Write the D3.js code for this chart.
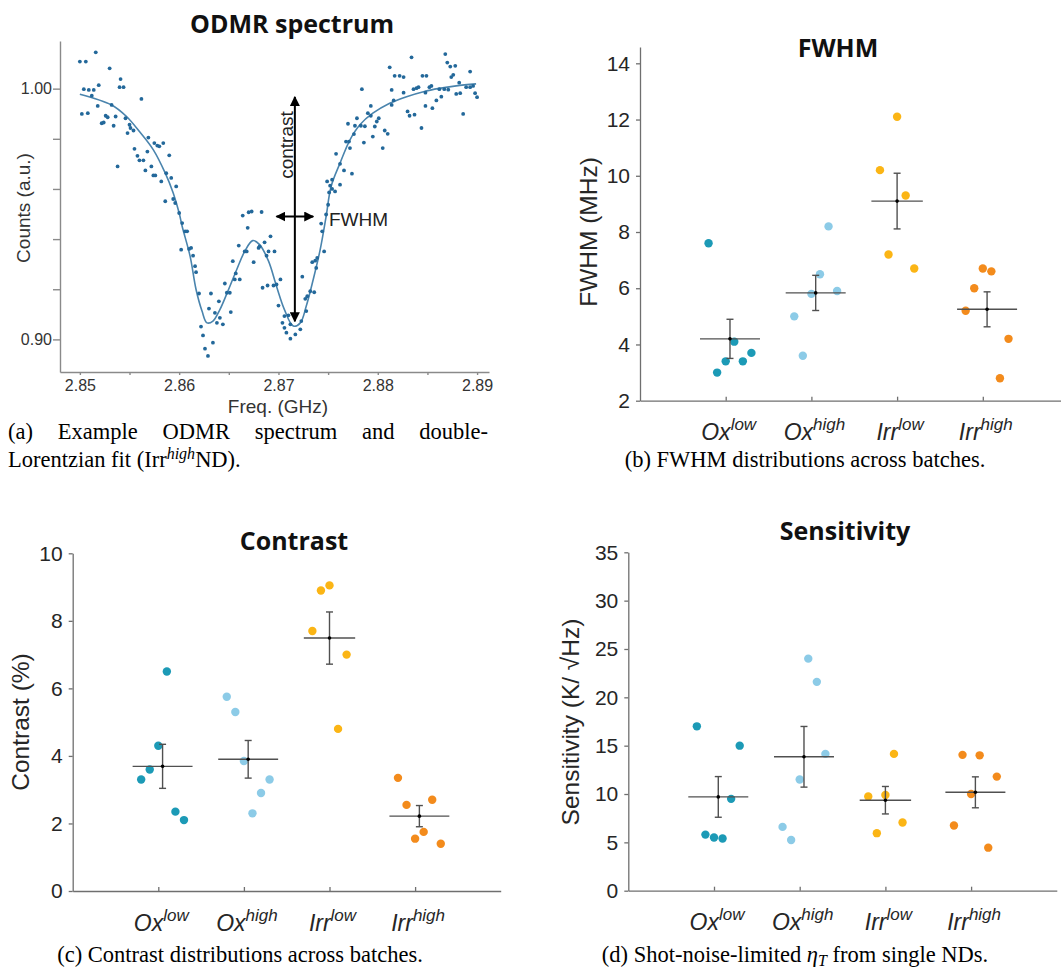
<!DOCTYPE html>
<html>
<head>
<meta charset="utf-8">
<title>ODMR characterisation of nanodiamond batches</title>
<script src="https://cdn.jsdelivr.net/npm/d3@7/dist/d3.min.js"></script>
<style>
  html, body { margin: 0; padding: 0; background: #ffffff; }
  svg { display: block; }
</style>
</head>
<body>
<svg id="figure" width="1061" height="976" viewBox="0 0 1061 976"></svg>
<script>
// ---------------------------------------------------------------
// Data
// ---------------------------------------------------------------

// (a) ODMR spectrum of one Irr-high nanodiamond: [frequency (GHz), normalised counts]
const odmrPoints = [
  [2.8500,1.0108],[2.8506,1.0108],[2.8516,1.0145],[2.8530,1.0081],[2.8504,0.9998],[2.8509,0.9995],
  [2.8514,0.9995],[2.8519,1.0014],[2.8512,0.9972],[2.8518,0.9931],[2.8502,0.9899],[2.8508,0.9902],
  [2.8532,0.9935],[2.8526,0.9892],[2.8528,0.9886],[2.8536,0.9889],[2.8522,0.9862],[2.8524,0.9865],
  [2.8534,0.9852],[2.8541,1.0038],[2.8540,1.0006],[2.8544,1.0006],[2.8546,0.9882],[2.8550,0.9856],
  [2.8551,0.9843],[2.8554,0.9833],[2.8548,0.9823],[2.8562,0.9959],[2.8569,0.9805],[2.8575,0.9783],
  [2.8584,0.9783],[2.8578,0.9773],[2.8580,0.9770],[2.8590,0.9734],[2.8555,0.9760],[2.8568,0.9749],
  [2.8558,0.9732],[2.8560,0.9714],[2.8564,0.9714],[2.8538,0.9690],[2.8572,0.9690],[2.8566,0.9674],
  [2.8574,0.9654],[2.8576,0.9654],[2.8587,0.9663],[2.8592,0.9644],[2.8582,0.9630],[2.8597,0.9610],
  [2.8594,0.9560],[2.8596,0.9544],[2.8586,0.9551],[2.8600,0.9504],
  [2.8603,0.9464],[2.8606,0.9431],[2.8608,0.9431],[2.8602,0.9358],[2.8610,0.9361],[2.8612,0.9365],
  [2.8614,0.9334],[2.8616,0.9292],[2.8617,0.9268],[2.8620,0.9183],[2.8632,0.9183],[2.8622,0.9051],
  [2.8624,0.9016],[2.8626,0.8963],[2.8629,0.8934],[2.8634,0.8987],[2.8630,0.9123],[2.8636,0.9106],
  [2.8640,0.9152],[2.8638,0.9066],[2.8641,0.9086],[2.8644,0.9060],[2.8646,0.9223],[2.8648,0.9186],
  [2.8651,0.9186],[2.8652,0.9109],[2.8654,0.9312],[2.8656,0.9239],[2.8657,0.9263],[2.8661,0.9239],
  [2.8660,0.9374],[2.8664,0.9494],[2.8669,0.9445],[2.8670,0.9507],[2.8673,0.9510],[2.8666,0.9351],
  [2.8668,0.9351],[2.8675,0.9308],[2.8680,0.9365],
  [2.8683,0.9508],[2.8686,0.9387],[2.8692,0.9411],[2.8681,0.9371],[2.8690,0.9351],[2.8696,0.9351],
  [2.8688,0.9334],[2.8689,0.9215],[2.8684,0.9206],[2.8695,0.9215],[2.8698,0.9219],[2.8702,0.9239],
  [2.8700,0.9135],[2.8706,0.9093],[2.8710,0.9096],[2.8704,0.9066],[2.8706,0.9046],[2.8712,0.9060],
  [2.8708,0.9027],[2.8712,0.9003],[2.8717,0.9020],[2.8722,0.9040],[2.8723,0.9073],[2.8728,0.9113],
  [2.8727,0.9162],[2.8729,0.9172],[2.8732,0.9192],[2.8724,0.9250],[2.8736,0.9188],[2.8734,0.9308],
  [2.8737,0.9314],[2.8739,0.9325],[2.8738,0.9285],[2.8746,0.9351],[2.8744,0.9431],[2.8743,0.9462],
  [2.8748,0.9498],[2.8750,0.9537],
  [2.8758,0.9740],[2.8762,0.9700],[2.8766,0.9674],[2.8774,0.9661],[2.8749,0.9630],[2.8754,0.9637],
  [2.8752,0.9613],[2.8762,0.9617],[2.8757,0.9590],[2.8754,0.9600],[2.8751,0.9586],[2.8768,0.9789],
  [2.8771,0.9789],[2.8776,0.9819],[2.8772,0.9763],[2.8777,0.9852],[2.8779,0.9882],[2.8770,0.9860],
  [2.8786,0.9785],[2.8783,0.9852],[2.8787,0.9850],[2.8790,0.9902],[2.8793,0.9931],[2.8793,0.9892],
  [2.8795,0.9809],[2.8797,0.9849],[2.8801,0.9882],[2.8799,0.9869],[2.8805,0.9763],[2.8807,0.9833],
  [2.8810,0.9820],[2.8814,0.9935],[2.8816,0.9953],[2.8784,0.9998],[2.8812,1.0085],[2.8817,1.0051],
  [2.8822,1.0051],[2.8826,1.0046],[2.8814,0.9995],[2.8826,0.9984],[2.8834,1.0125],[2.8836,0.9998],
  [2.8839,1.0002],[2.8841,1.0006],[2.8830,0.9909],[2.8832,0.9892],[2.8837,0.9896],[2.8844,0.9843],
  [2.8845,1.0051],[2.8849,1.0051],[2.8848,0.9984],[2.8852,1.0006],[2.8854,1.0011],[2.8848,0.9931],
  [2.8855,0.9922],[2.8859,0.9953],[2.8862,0.9998],[2.8864,0.9968],[2.8868,1.0138],[2.8870,1.0104],
  [2.8873,1.0088],[2.8878,1.0091],[2.8876,1.0055],[2.8874,1.0046],[2.8867,0.9998],[2.8871,0.9996],
  [2.8882,1.0024],[2.8879,0.9979],[2.8883,0.9982],[2.8886,0.9899],[2.8893,1.0068],[2.8889,1.0006],
  [2.8893,1.0006],[2.8896,1.0011],[2.8898,0.9982],[2.8900,0.9966]
];

// (a) double-Lorentzian fit through the spectrum
const odmrFit = [
  [2.8500,0.9978],[2.8532,0.9935],[2.8547,0.9889],[2.8560,0.9829],[2.8574,0.9756],[2.8586,0.9663],
  [2.8594,0.9584],[2.8600,0.9504],[2.8603,0.9451],[2.8611,0.9332],[2.8617,0.9199],[2.8623,0.9113],
  [2.8628,0.9066],[2.8634,0.9073],[2.8641,0.9119],[2.8649,0.9192],[2.8658,0.9279],[2.8666,0.9351],
  [2.8674,0.9394],[2.8681,0.9378],[2.8690,0.9312],[2.8698,0.9212],[2.8706,0.9119],[2.8715,0.9053],
  [2.8722,0.9066],[2.8728,0.9133],[2.8735,0.9239],[2.8742,0.9358],[2.8748,0.9491],[2.8753,0.9610],
  [2.8762,0.9703],[2.8772,0.9796],[2.8782,0.9856],[2.8795,0.9902],[2.8812,0.9942],[2.8829,0.9968],
  [2.8846,0.9988],[2.8862,1.0001],[2.8879,1.0011],[2.8899,1.0019]
];

// (a) axis ticks
const freqTicks = [2.850, 2.855, 2.860, 2.865, 2.870, 2.875, 2.880, 2.885, 2.890];
const freqLabelled = [2.85, 2.86, 2.87, 2.88, 2.89];
const countTicks = [0.90, 0.92, 0.94, 0.96, 0.98, 1.00];
const countLabelled = [0.90, 1.00];

// (a) annotation: contrast arrow (freq, counts from -> to) and FWHM arrow (freq from -> to, counts)
const contrastArrow = { freq: 2.87165, from: 0.9072, to: 0.9967 };
const fwhmArrow = { from: 2.8698, to: 2.8735, counts: 0.9490 };

// (b)-(d) nanodiamond batches
const batchNames  = ["Ox", "Ox", "Irr", "Irr"];
const batchLevels = ["low", "high", "low", "high"];
const batchColors = ["#1c9ab6", "#8ccbe7", "#fbb515", "#f38b1c"];

// single-ND values per batch
const fwhmMHz = [
  [7.6, 3.0, 3.4, 4.1, 3.4, 3.7],
  [5.0, 3.6, 5.8, 6.5, 8.2, 5.9],
  [10.2, 7.2, 12.1, 9.3, 6.7],
  [5.2, 6.0, 6.7, 6.6, 2.8, 4.2]
];
const contrastPct = [
  [3.3, 3.6, 4.3, 6.5, 2.35, 2.1],
  [5.75, 5.3, 3.85, 2.3, 2.9, 3.3],
  [7.7, 8.9, 9.05, 4.8, 7.0],
  [3.35, 2.55, 1.55, 1.75, 2.7, 1.4]
];
const sensitivityK = [
  [17.0, 5.8, 5.5, 5.4, 9.5, 15.0],
  [6.6, 5.25, 11.5, 24.0, 21.6, 14.15],
  [9.75, 5.95, 9.9, 14.15, 7.05],
  [6.75, 14.05, 10.0, 14.0, 4.45, 11.8]
];

const fwhmTicks = [2, 4, 6, 8, 10, 12, 14];
const contrastTicks = [0, 2, 4, 6, 8, 10];
const sensitivityTicks = [0, 5, 10, 15, 20, 25, 30, 35];

// ---------------------------------------------------------------
// Drawing
// ---------------------------------------------------------------
const SANS = "'Liberation Sans', Arial, Helvetica, sans-serif";
const TITLE = "'Open Sans', 'Liberation Sans', Arial, sans-serif";
const SERIF = "'Liberation Serif', 'Times New Roman', Times, serif";
const svg = d3.select("#figure");

function styleAxis(sel, color, width) {
  sel.select(".domain").attr("stroke", color).attr("stroke-width", width);
  sel.selectAll(".tick line").attr("stroke", color).attr("stroke-width", width);
}

// ---------- (a) ODMR spectrum ----------
(function drawSpectrum() {
  const g = svg.append("g");
  const x = d3.scaleLinear().domain([2.848, 2.8912]).range([60, 489]);
  const y = d3.scaleLinear().domain([0.887, 1.019]).range([372, 41]);
  const near = (list, d) => list.some(v => Math.abs(v - d) < 1e-9);

  const yAx = g.append("g").attr("transform", "translate(60,0)")
    .call(d3.axisLeft(y).tickValues(countTicks).tickSize(7).tickSizeOuter(0).tickPadding(1)
      .tickFormat(d => near(countLabelled, d) ? d3.format(".2f")(d) : ""));
  const xAx = g.append("g").attr("transform", "translate(0,372)")
    .call(d3.axisBottom(x).tickValues(freqTicks).tickSize(3).tickSizeOuter(0).tickPadding(5)
      .tickFormat(d => near(freqLabelled, d) ? d3.format(".2f")(d) : ""));
  [yAx, xAx].forEach(a => {
    styleAxis(a, "#8a8a8a", 1.4);
    a.selectAll("text").attr("font-family", SANS).attr("font-size", 16).attr("fill", "#333");
  });

  // fit line
  g.append("path")
    .datum(odmrFit)
    .attr("fill", "none")
    .attr("stroke", "#4a84ad")
    .attr("stroke-width", 1.6)
    .attr("d", d3.line().x(d => x(d[0])).y(d => y(d[1])).curve(d3.curveCatmullRom.alpha(0.5)));

  // measured points
  g.append("g").selectAll("circle")
    .data(odmrPoints)
    .join("circle")
    .attr("cx", d => x(d[0]))
    .attr("cy", d => y(d[1]))
    .attr("r", 1.9)
    .attr("fill", "#23689a");

  // arrow heads
  const defs = svg.append("defs");
  defs.append("marker")
    .attr("id", "arrowHead")
    .attr("viewBox", "0 0 10 10")
    .attr("refX", 9).attr("refY", 5)
    .attr("markerWidth", 5).attr("markerHeight", 5)
    .attr("markerUnits", "strokeWidth")
    .attr("orient", "auto-start-reverse")
    .append("path").attr("d", "M0,0 L10,5 L0,10 Z").attr("fill", "#000");

  g.append("line")
    .attr("x1", x(contrastArrow.freq)).attr("x2", x(contrastArrow.freq))
    .attr("y1", y(contrastArrow.from)).attr("y2", y(contrastArrow.to))
    .attr("stroke", "#000").attr("stroke-width", 2)
    .attr("marker-start", "url(#arrowHead)").attr("marker-end", "url(#arrowHead)");
  g.append("line")
    .attr("x1", x(fwhmArrow.from)).attr("x2", x(fwhmArrow.to))
    .attr("y1", y(fwhmArrow.counts)).attr("y2", y(fwhmArrow.counts))
    .attr("stroke", "#000").attr("stroke-width", 2)
    .attr("marker-start", "url(#arrowHead)").attr("marker-end", "url(#arrowHead)");

  g.append("text")
    .attr("transform", `translate(${x(contrastArrow.freq) - 2},145) rotate(-90)`)
    .attr("text-anchor", "middle")
    .attr("font-family", SANS).attr("font-size", 19).attr("fill", "#222")
    .text("contrast");
  g.append("text")
    .attr("x", 329).attr("y", 226)
    .attr("font-family", SANS).attr("font-size", 19).attr("fill", "#222")
    .text("FWHM");

  // labels and title
  g.append("text")
    .attr("x", 278).attr("y", 413).attr("text-anchor", "middle")
    .attr("font-family", SANS).attr("font-size", 19).attr("fill", "#333")
    .text("Freq. (GHz)");
  g.append("text")
    .attr("transform", "translate(30,208) rotate(-90)")
    .attr("text-anchor", "middle")
    .attr("font-family", SANS).attr("font-size", 19).attr("fill", "#333")
    .text("Counts (a.u.)");
  g.append("text")
    .attr("x", 292).attr("y", 33).attr("text-anchor", "middle")
    .attr("font-family", TITLE).attr("font-weight", 700).attr("font-size", 25).attr("fill", "#111")
    .text("ODMR spectrum");
})();

// ---------- (b)-(d) batch distributions ----------
const jitterStep = 0.1;   // horizontal spacing of single-ND dots, in category units

function drawDotPanel(cfg) {
  const g = svg.append("g");
  const nCat = batchNames.length;
  const x = d3.scaleLinear().domain([0, nCat + 1]).range([cfg.left, cfg.left + (nCat + 1) * cfg.step]);
  const y = d3.scaleLinear().domain(cfg.yDomain).range([cfg.bottom, cfg.top]);

  const yAx = g.append("g").attr("transform", `translate(${cfg.left},0)`)
    .call(d3.axisLeft(y).tickValues(cfg.yTicks).tickSize(4).tickSizeOuter(0).tickPadding(6)
      .tickFormat(d3.format("d")));
  const xAx = g.append("g").attr("transform", `translate(0,${cfg.bottom})`)
    .call(d3.axisBottom(x).tickValues(d3.range(1, nCat + 1)).tickSize(-4).tickSizeOuter(0)
      .tickFormat(""));
  [yAx, xAx].forEach(a => styleAxis(a, "#6f6f6f", 1.3));
  yAx.selectAll("text").attr("font-family", SANS).attr("font-size", 21).attr("fill", "#262626");

  // category labels: batch name with italic superscript
  batchNames.forEach((name, k) => {
    const t = g.append("text")
      .attr("x", x(k + 1) + 3).attr("y", cfg.bottom + 39.5)
      .attr("text-anchor", "middle")
      .attr("font-family", SANS).attr("font-style", "italic").attr("fill", "#262626");
    t.append("tspan").attr("font-size", 23).text(name);
    t.append("tspan").attr("font-size", 17).attr("dy", -10).text(batchLevels[k]);
  });

  cfg.values.forEach((vals, k) => {
    const n = vals.length;
    const first = -Math.floor((n - 1) / 2);
    const offs = vals.map((_, i) => (first + i) * jitterStep);
    const pos = o => x(k + 1 + o);

    g.append("g").selectAll("circle")
      .data(vals)
      .join("circle")
      .attr("cx", (d, i) => pos(offs[i]))
      .attr("cy", d => y(d))
      .attr("r", 4.2)
      .attr("fill", batchColors[k]);

    // mean and standard error of the mean
    const m = d3.mean(vals);
    const se = d3.deviation(vals) / Math.sqrt(n);
    const cx = pos(d3.mean(offs));
    const bar = g.append("g").attr("stroke", "#505050").attr("stroke-width", 1.4);
    bar.append("line")
      .attr("x1", pos(offs[0] - jitterStep)).attr("x2", pos(offs[n - 1] + jitterStep))
      .attr("y1", y(m)).attr("y2", y(m));
    bar.append("line")
      .attr("x1", cx).attr("x2", cx)
      .attr("y1", y(m - se)).attr("y2", y(m + se));
    [m - se, m + se].forEach(v => bar.append("line")
      .attr("x1", cx - 3.5).attr("x2", cx + 3.5)
      .attr("y1", y(v)).attr("y2", y(v)));
    g.append("circle").attr("cx", cx).attr("cy", y(m)).attr("r", 1.8).attr("fill", "#000");
  });

  g.append("text")
    .attr("transform", `translate(${cfg.ylabelX},${cfg.ylabelY}) rotate(-90)`)
    .attr("text-anchor", "middle")
    .attr("font-family", SANS).attr("font-size", 24.5).attr("fill", "#262626")
    .text(cfg.ylabel);
  g.append("text")
    .attr("x", cfg.titleX).attr("y", cfg.titleY).attr("text-anchor", "middle")
    .attr("font-family", TITLE).attr("font-weight", 700).attr("font-size", 25).attr("fill", "#111")
    .text(cfg.title);
}

drawDotPanel({
  title: "FWHM", titleX: 838, titleY: 57,
  ylabel: "FWHM (MHz)", ylabelX: 597, ylabelY: 232,
  left: 640, step: 85.7, bottom: 400.7, top: 47,
  yDomain: [2, 14.58], yTicks: fwhmTicks, values: fwhmMHz
});
drawDotPanel({
  title: "Contrast", titleX: 294, titleY: 550,
  ylabel: "Contrast (%)", ylabelX: 29, ylabelY: 722,
  left: 72.7, step: 85.6, bottom: 891, top: 553.3,
  yDomain: [0, 10], yTicks: contrastTicks, values: contrastPct
});
drawDotPanel({
  title: "Sensitivity", titleX: 845, titleY: 539.5,
  ylabel: "Sensitivity (K/ \u221AHz)", ylabelX: 579, ylabelY: 722,
  left: 628.3, step: 85.7, bottom: 890.7, top: 552.3,
  yDomain: [0, 35], yTicks: sensitivityTicks, values: sensitivityK
});

// ---------- captions ----------
const CAPTION_SIZE = 22.5;
function caption(x, yBase, anchor) {
  return svg.append("text")
    .attr("x", x).attr("y", yBase).attr("text-anchor", anchor)
    .attr("font-family", SERIF).attr("font-size", CAPTION_SIZE).attr("fill", "#000");
}

// (a) two lines, first one justified to the column width
const capA1 = caption(8, 439, "start").text("(a) Example ODMR spectrum and double-");
{
  const natural = capA1.node().getComputedTextLength();
  const gaps = capA1.text().split(" ").length - 1;
  capA1.attr("word-spacing", ((480 - natural) / gaps).toFixed(2));
}
const capA2 = caption(8, 467, "start");
capA2.append("tspan").text("Lorentzian fit (Irr");
capA2.append("tspan").attr("font-style", "italic").attr("font-size", 16).attr("dy", -8).text("high");
capA2.append("tspan").attr("dy", 8).text("ND).");

caption(805, 467, "middle").text("(b) FWHM distributions across batches.");
caption(240, 962, "middle").text("(c) Contrast distributions across batches.");

const capD = caption(795, 962, "middle");
capD.append("tspan").text("(d) Shot-noise-limited ");
capD.append("tspan").attr("font-style", "italic").text("\u03B7");
capD.append("tspan").attr("font-style", "italic").attr("font-size", 16).attr("dy", 4).text("T");
capD.append("tspan").attr("dy", -4).text(" from single NDs.");
</script>
</body>
</html>
